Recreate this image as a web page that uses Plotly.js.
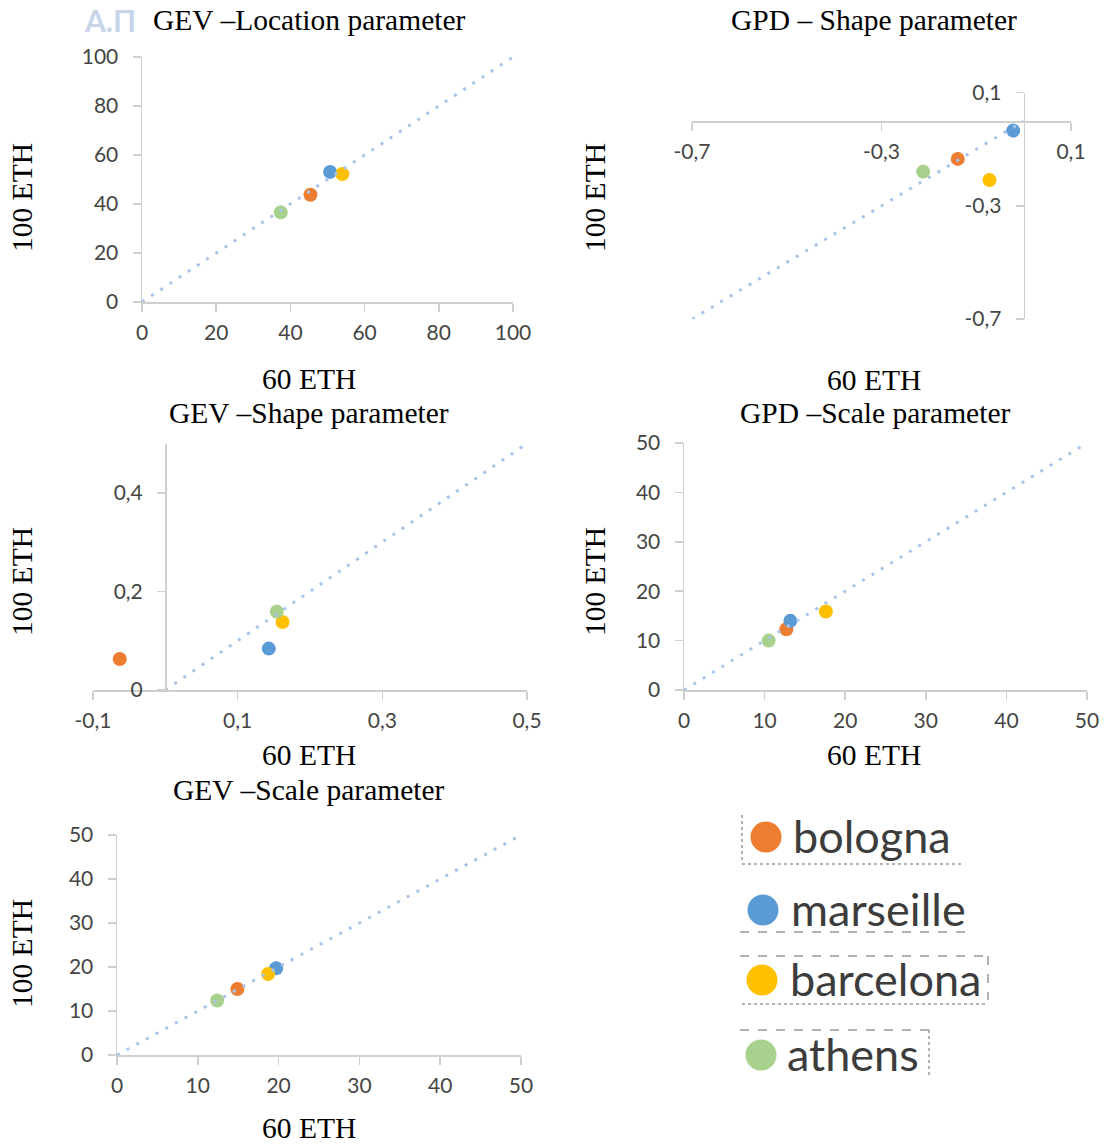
<!DOCTYPE html>
<html>
<head>
<meta charset="utf-8">
<script src="https://cdn.plot.ly/plotly-3.0.1.min.js"></script>
<style>html,body{margin:0;padding:0;background:#fff}#chart{width:1104px;height:1144px}</style>
</head>
<body>
<div id="chart"></div>
<script>
// ---------- DATA ----------
const cities = ['bologna', 'marseille', 'barcelona', 'athens'];
const cityColors = ['#ED7D31', '#5B9BD5', '#FFC000', '#A9D18E'];

const gevLocation60 = [45.4, 50.7, 54.0, 37.4];
const gevLocation100 = [43.8, 53.1, 52.2, 36.6];

const gpdShape60 = [-0.139, -0.022, -0.072, -0.212];
const gpdShape100 = [-0.134, -0.034, -0.209, -0.179];

const gevShape60 = [-0.063, 0.143, 0.162, 0.154];
const gevShape100 = [0.063, 0.084, 0.138, 0.159];

const gpdScale60 = [12.7, 13.2, 17.6, 10.5];
const gpdScale100 = [12.3, 14.0, 15.9, 10.0];

const gevScale60 = [14.9, 19.7, 18.7, 12.4];
const gevScale100 = [15.0, 19.7, 18.4, 12.4];

// reference lines (y = x)
const diagLocation = [0, 100];
const diagGpdShape = [-0.7, 0];
const diagGevShape = [0, 0.5];
const diagScale = [0, 50];

// tick labels
const ticksGpdShape = [-0.7, -0.3, 0.1];
const tickTextGpdShape = ['-0,7', '-0,3', '0,1'];
const ticksGevShapeX = [-0.1, 0.1, 0.3, 0.5];
const tickTextGevShapeX = ['-0,1', '0,1', '0,3', '0,5'];
const ticksGevShapeY = [0, 0.2, 0.4];
const tickTextGevShapeY = ['0', '0,2', '0,4'];

const panelTitles = ['GEV \u2013Location parameter', 'GPD \u2013 Shape parameter', 'GEV \u2013Shape parameter', 'GPD \u2013Scale parameter', 'GEV \u2013Scale parameter'];
const xTitle = '60 ETH';
const yTitle = '100 ETH';

// ---------- LAYOUT HELPERS ----------
const W = 1104, H = 1144;
const fx = p => p / W;
const fy = p => 1 - p / H;

const tickFont = {family: 'Lato, "Open Sans", sans-serif', size: 21, color: '#454545'};
const axisBase = {
  showgrid: false, zeroline: false, showline: true,
  linecolor: '#cfcfcf', linewidth: 1.5,
  ticks: 'outside', ticklen: 8, tickcolor: '#cfcfcf', tickwidth: 1.5,
  tickfont: tickFont, fixedrange: true
};
function xax(extra) { return Object.assign({}, axisBase, {ticklabelstandoff: 3}, extra); }
function yax(extra) { return Object.assign({}, axisBase, {ticklabelstandoff: 10}, extra); }

const traces = [];
function addPanel(xs, ys, diag, xa, ya) {
  for (let i = 0; i < cities.length; i++) {
    traces.push({
      type: 'scatter', mode: 'markers', x: [xs[i]], y: [ys[i]],
      xaxis: xa, yaxis: ya, showlegend: false, name: cities[i],
      marker: {size: 14, color: cityColors[i]}, cliponaxis: false
    });
  }
  traces.push({
    type: 'scatter', mode: 'lines', x: diag, y: diag, xaxis: xa, yaxis: ya,
    showlegend: false, hoverinfo: 'skip',
    line: {color: '#A7C5EA', width: 3, dash: '3px,8px'}
  });
}
addPanel(gevLocation60, gevLocation100, diagLocation, 'x', 'y');
addPanel(gpdShape60, gpdShape100, diagGpdShape, 'x2', 'y2');
addPanel(gevShape60, gevShape100, diagGevShape, 'x3', 'y3');
addPanel(gpdScale60, gpdScale100, diagScale, 'x4', 'y4');
addPanel(gevScale60, gevScale100, diagScale, 'x5', 'y5');

const layout = {
  width: W, height: H, margin: {l: 0, r: 0, t: 0, b: 0},
  paper_bgcolor: '#ffffff', plot_bgcolor: 'rgba(0,0,0,0)',
  showlegend: false,
  // panel 1
  xaxis: xax({domain: [fx(142), fx(513)], range: [0, 100], tick0: 0, dtick: 20, anchor: 'y'}),
  yaxis: yax({domain: [fy(302), fy(57)], range: [0, 100], tick0: 0, dtick: 20, anchor: 'x'}),
  // panel 2 (axes crossing at 0)
  xaxis2: xax({domain: [fx(692), fx(1071)], range: [-0.7, 0.1], tickvals: ticksGpdShape, ticktext: tickTextGpdShape, anchor: 'free', position: fy(121)}),
  yaxis2: yax({domain: [fy(319), fy(92.7)], range: [-0.7, 0.1], tickvals: ticksGpdShape, ticktext: tickTextGpdShape, anchor: 'free', position: fx(1023.6)}),
  // panel 3
  xaxis3: xax({domain: [fx(93), fx(527)], range: [-0.1, 0.5], tickvals: ticksGevShapeX, ticktext: tickTextGevShapeX, anchor: 'y3'}),
  yaxis3: yax({domain: [fy(690), fy(443.5)], range: [0, 0.5], tickvals: ticksGevShapeY, ticktext: tickTextGevShapeY, anchor: 'free', position: fx(165)}),
  // panel 4
  xaxis4: xax({domain: [fx(684), fx(1087)], range: [0, 50], tick0: 0, dtick: 10, anchor: 'y4'}),
  yaxis4: yax({domain: [fy(690), fy(443)], range: [0, 50], tick0: 0, dtick: 10, anchor: 'x4'}),
  // panel 5
  xaxis5: xax({domain: [fx(117), fx(521)], range: [0, 50], tick0: 0, dtick: 10, anchor: 'y5'}),
  yaxis5: yax({domain: [fy(1055), fy(835)], range: [0, 50], tick0: 0, dtick: 10, anchor: 'x5'}),
  annotations: [],
  shapes: []
};

const serif = {family: '"Liberation Serif", "Times New Roman", serif', size: 29.5, color: '#000000'};
function txt(text, x, y, extra) {
  layout.annotations.push(Object.assign({
    text: text, xref: 'paper', yref: 'paper', x: fx(x), y: fy(y),
    xanchor: 'center', yanchor: 'middle', showarrow: false, font: serif
  }, extra || {}));
}

// watermark remnant
txt('<b>\u0391.\u03A0</b>', 110, 20, {font: {family: 'Lato, sans-serif', size: 30, color: '#c9d6ea'}});

// panel titles and axis titles
const titlePos = [[309, 20], [874, 20], [309, 413], [875, 413], [309, 790]];
const xTitlePos = [[309, 379], [874, 380], [309, 755], [874, 755], [309, 1128]];
const yTitlePos = [[22, 198], [595, 198], [22, 582], [595, 582], [22, 954]];
for (let i = 0; i < 5; i++) {
  txt(panelTitles[i], titlePos[i][0], titlePos[i][1]);
  txt(xTitle, xTitlePos[i][0], xTitlePos[i][1]);
  txt(yTitle, yTitlePos[i][0], yTitlePos[i][1], {textangle: -90});
}

// custom legend
const legendMarker = [[766, 837], [763, 910], [762, 980], [761, 1055]];
const legendText = [791, 789, 788, 785];
for (let i = 0; i < cities.length; i++) {
  const [cx, cy] = legendMarker[i];
  const r = 15.5;
  layout.shapes.push({type: 'circle', xref: 'paper', yref: 'paper',
    x0: fx(cx - r), x1: fx(cx + r), y0: fy(cy + r), y1: fy(cy - r),
    fillcolor: cityColors[i], line: {width: 0}});
  txt(cities[i], legendText[i], cy - 1, {xanchor: 'left',
    font: {family: 'Lato, "Open Sans", sans-serif', size: 45, color: '#3c3c3c'}});
}
// dotted selection marks around legend entries
function seg(x0, y0, x1, y1, dash) {
  layout.shapes.push({type: 'line', xref: 'paper', yref: 'paper',
    x0: fx(x0), y0: fy(y0), x1: fx(x1), y1: fy(y1),
    line: {color: '#9a9a9a', width: 1.5, dash: dash}});
}
seg(742, 815, 742, 862, 'dot');
seg(742, 864, 962, 864, 'dot');
seg(740, 932, 973, 932, 'dash');
seg(740, 956, 988, 956, 'dash');
seg(988, 956, 988, 1000, 'dash');
seg(742, 1004, 988, 1004, 'dot');
seg(740, 1030, 929, 1030, 'dash');
seg(929, 1030, 929, 1075, 'dot');

Plotly.newPlot('chart', traces, layout, {staticPlot: true, displayModeBar: false});
</script>
</body>
</html>
